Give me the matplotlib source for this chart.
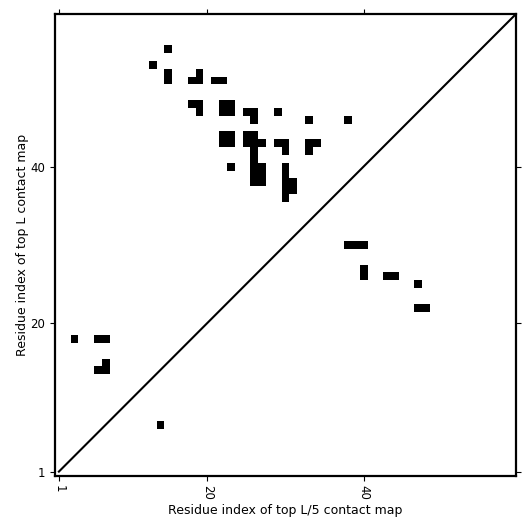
import numpy as np
import matplotlib
matplotlib.use("Agg")
import matplotlib.pyplot as plt

L = 59

# residue pairs (i, j), i < j
top_L_i = [15, 13, 15, 15, 19, 18, 19, 21, 22, 18, 19, 19, 22, 23, 22, 23, 25, 26, 26, 29,
           33, 38, 22, 23, 22, 23, 25, 26, 25, 26, 27, 26, 26, 26, 27, 26, 27, 26, 27, 23,
           29, 30, 30, 30, 30, 30, 30, 30, 31, 31, 33, 34, 33, 3, 6, 7, 7, 6, 7]
top_L_j = [55, 53, 52, 51, 52, 51, 51, 51, 51, 48, 48, 47, 48, 48, 47, 47, 47, 47, 46, 47,
           46, 46, 44, 44, 43, 43, 44, 44, 43, 43, 43, 42, 41, 40, 40, 39, 39, 38, 38, 40,
           43, 43, 42, 40, 39, 38, 37, 36, 38, 37, 43, 43, 42, 18, 18, 18, 15, 14, 14]

top_L5_i = [30, 30, 30, 27, 26, 26, 26, 25, 22, 22, 7]
top_L5_j = [38, 39, 40, 40, 40, 43, 44, 47, 47, 48, 14]

tick_vals = [1, 20, 40]

cmap = np.zeros((L, L))
for i, j in zip(top_L_i, top_L_j):
    cmap[j - 1, i - 1] = 1.    # upper triangle: top L
for i, j in zip(top_L5_i, top_L5_j):
    cmap[i - 1, j - 1] = 1.    # lower triangle: top L/5

fig = plt.figure(figsize=(5.31, 5.31), dpi=100)
ax = fig.add_axes([55 / 531, 1 - 475.5 / 531, 461 / 531, 461.5 / 531])
ax.imshow(cmap, cmap="Greys", vmin=0, vmax=1, origin="lower", interpolation="nearest",
          extent=(0.5, L + 0.5, 0.5, L + 0.5), aspect="auto")
ax.plot([1, L + 1], [1, L + 1], color="black", lw=1.5)
ax.set_xlim(0.5, L + 0.5)
ax.set_ylim(0.5, L + 0.5)

ax.set_xticks(tick_vals)
ax.set_yticks(tick_vals)
ax.set_xticklabels([str(t) for t in tick_vals], rotation=270)
ax.tick_params(top=True, right=True, direction="out", labelsize=8.5)
for s in ax.spines.values():
    s.set_linewidth(1.6)

ax.set_xlabel("Residue index of top L/5 contact map", fontsize=9, labelpad=3)
ax.set_ylabel("Residue index of top L contact map", fontsize=9, labelpad=1)

fig.savefig("out.png", dpi=100)
